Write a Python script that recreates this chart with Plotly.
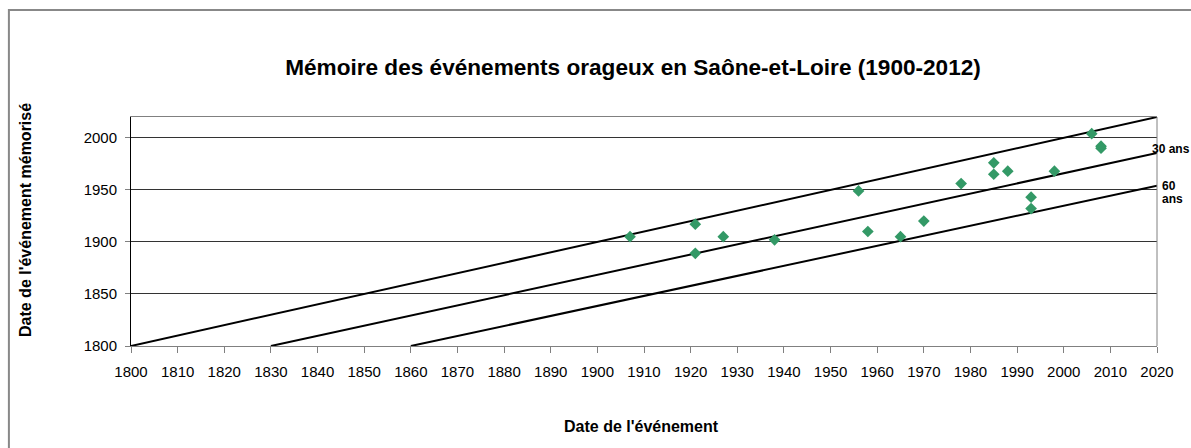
import plotly.graph_objects as go

# dates des événements orageux et date mémorisée
event_year = [1907, 1921, 1921, 1927, 1938, 1956, 1958, 1965, 1970, 1978,
              1985, 1985, 1988, 1993, 1993, 1998, 2006, 2008, 2008]
memory_year = [1905, 1917, 1889, 1905, 1902, 1949, 1910, 1905, 1920, 1956,
               1976, 1965, 1968, 1943, 1932, 1968, 2004, 1992, 1990]

# droites de référence (0, 30 et 60 ans)
line0_x = [1800, 2020]
line0_y = [1800, 2020]
line30_x = [1830, 2020]
line30_y = [1800, 1985.5]
line60_x = [1860, 2020]
line60_y = [1800, 1954]

x_ticks = list(range(1800, 2021, 10))
y_ticks = [1800, 1850, 1900, 1950, 2000]

FONT = "Liberation Sans, Arial, sans-serif"

fig = go.Figure()
for lx, ly in [(line0_x, line0_y), (line30_x, line30_y), (line60_x, line60_y)]:
    fig.add_trace(go.Scatter(x=lx, y=ly, mode="lines",
                             line=dict(color="black", width=2),
                             hoverinfo="skip", showlegend=False))
fig.add_trace(go.Scatter(x=event_year, y=memory_year, mode="markers",
                         marker=dict(symbol="diamond", size=9, color="#339966"),
                         showlegend=False))

fig.update_layout(
    width=1191, height=448,
    margin=dict(l=131, r=34, t=117, b=102),
    paper_bgcolor="white", plot_bgcolor="white",
    font=dict(family=FONT, color="black"),
    title=dict(text="<b>Mémoire des événements orageux en Saône-et-Loire (1900-2012)</b>",
               x=633 / 1191, xref="container", xanchor="center",
               y=1 - 67 / 448, yref="container", yanchor="middle",
               font=dict(size=22.6, family=FONT, color="black")),
)
fig.update_xaxes(range=[1800, 2020], tickvals=x_ticks, showgrid=False,
                 showline=True, linecolor="#808080", linewidth=1, mirror=True,
                 ticks="outside", ticklen=6, tickcolor="#808080",
                 tickfont=dict(size=15), ticklabelstandoff=6, zeroline=False)
fig.update_yaxes(range=[1800, 2020], tickvals=y_ticks, showgrid=True,
                 gridcolor="#333333", gridwidth=1,
                 showline=True, linecolor="black", linewidth=1,
                 ticks="outside", ticklen=5, tickcolor="#808080",
                 tickfont=dict(size=15), ticklabelstandoff=5, zeroline=False)

# bord droit du cadre et cadre extérieur
fig.add_shape(type="line", xref="paper", yref="paper", x0=1, x1=1, y0=0, y1=1,
              line=dict(color="#808080", width=1))
fig.add_shape(type="rect", xref="paper", yref="paper",
              x0=-0.119, x1=1.2, y0=-0.6, y1=1.467,
              line=dict(color="#888888", width=2), layer="below")

annots = [
    dict(text="<b>Date de l'événement</b>", x=0.4976, y=-0.3537,
         font=dict(size=16)),
    dict(text="<b>Date de l'événement mémorisé</b>", x=-0.1033, y=0.5502,
         textangle=-90, font=dict(size=16)),
    dict(text="<b>30 ans</b>", x=0.9932, y=0.8603, xanchor="left",
         font=dict(size=12)),
    dict(text="<b>60</b>", x=1.0029, y=0.6987, xanchor="left",
         font=dict(size=12)),
    dict(text="<b>ans</b>", x=1.0029, y=0.6419, xanchor="left",
         font=dict(size=12)),
]
for a in annots:
    fig.add_annotation(showarrow=False, xref="paper", yref="paper",
                       yanchor="middle", **({"xanchor": "center"} | a))

# no body margin so the figure sits at the page corner
fig.write_html("out.html", config={"displayModeBar": False},
               post_script="document.body.style.margin='0';")
